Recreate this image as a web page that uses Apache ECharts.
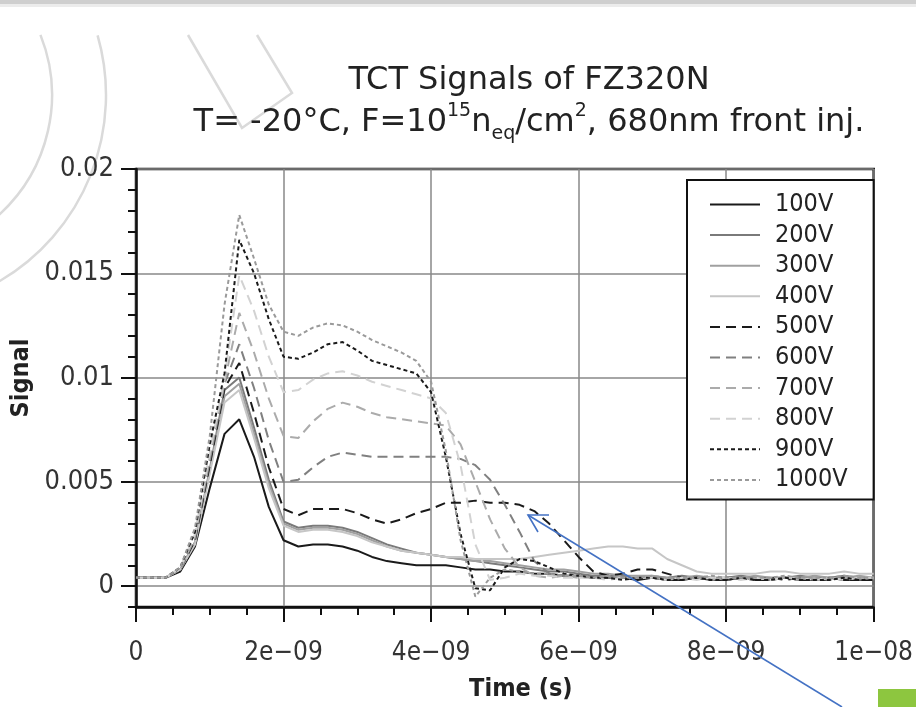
<!DOCTYPE html>
<html>
<head>
<meta charset="utf-8">
<script src="https://cdn.jsdelivr.net/npm/echarts@6/dist/echarts.min.js"></script>
<style>html,body{margin:0;padding:0;background:#fff;}#c{width:916px;height:707px;}</style>
</head>
<body>
<div id="c"></div>
<script>
// ---- data ----
const times = [
  0, 2e-10, 4e-10, 6e-10, 8e-10, 1.0e-9, 1.2e-9, 1.4e-9, 1.6e-9, 1.8e-9,
  2.0e-9, 2.2e-9, 2.4e-9, 2.6e-9, 2.8e-9, 3.0e-9, 3.2e-9, 3.4e-9, 3.6e-9, 3.8e-9,
  4.0e-9, 4.2e-9, 4.4e-9, 4.6e-9, 4.8e-9, 5.0e-9, 5.2e-9, 5.4e-9, 5.6e-9, 5.8e-9,
  6.0e-9, 6.2e-9, 6.4e-9, 6.6e-9, 6.8e-9, 7.0e-9, 7.2e-9, 7.4e-9, 7.6e-9, 7.8e-9,
  8.0e-9, 8.2e-9, 8.4e-9, 8.6e-9, 8.8e-9, 9.0e-9, 9.2e-9, 9.4e-9, 9.6e-9, 9.8e-9,
  1.0e-8
];
const seriesNames = ['100V','200V','300V','400V','500V','600V','700V','800V','900V','1000V'];
const v100 = [0.0004,0.0004,0.0004,0.0007,0.0019,0.0047,0.0073,0.0080,0.0062,0.0038,
  0.0022,0.0019,0.0020,0.0020,0.0019,0.0017,0.0014,0.0012,0.0011,0.0010,
  0.0010,0.0010,0.0009,0.0008,0.0008,0.0007,0.0007,0.0006,0.0006,0.0005,
  0.0005,0.0004,0.0004,0.0004,0.0003,0.0004,0.0003,0.0003,0.0004,0.0003,
  0.0003,0.0004,0.0003,0.0003,0.0004,0.0003,0.0003,0.0004,0.0003,0.0003,
  0.0003];
const v200 = [0.0004,0.0004,0.0004,0.0008,0.0021,0.0056,0.0094,0.0100,0.0076,0.0051,
  0.0031,0.0028,0.0029,0.0029,0.0028,0.0026,0.0023,0.0020,0.0018,0.0016,
  0.0015,0.0014,0.0013,0.0012,0.0011,0.0010,0.0009,0.0008,0.0007,0.0007,
  0.0006,0.0005,0.0005,0.0005,0.0004,0.0004,0.0004,0.0005,0.0004,0.0004,
  0.0004,0.0005,0.0004,0.0004,0.0004,0.0005,0.0004,0.0004,0.0005,0.0004,
  0.0004];
const v300 = [0.0004,0.0004,0.0004,0.0008,0.0021,0.0055,0.0091,0.0097,0.0073,0.0049,
  0.0030,0.0027,0.0028,0.0028,0.0027,0.0025,0.0022,0.0019,0.0017,0.0016,
  0.0015,0.0014,0.0013,0.0012,0.0012,0.0011,0.0010,0.0009,0.0008,0.0008,
  0.0007,0.0006,0.0006,0.0005,0.0005,0.0005,0.0004,0.0004,0.0005,0.0004,
  0.0004,0.0004,0.0005,0.0004,0.0004,0.0004,0.0005,0.0004,0.0004,0.0005,
  0.0004];
const v400 = [0.0004,0.0004,0.0004,0.0008,0.0020,0.0054,0.0088,0.0094,0.0071,0.0047,
  0.0029,0.0026,0.0027,0.0027,0.0026,0.0024,0.0021,0.0019,0.0017,0.0016,
  0.0015,0.0014,0.0014,0.0013,0.0013,0.0013,0.0013,0.0014,0.0015,0.0016,
  0.0017,0.0018,0.0019,0.0019,0.0018,0.0018,0.0013,0.0010,0.0007,0.0006,
  0.0006,0.0006,0.0006,0.0007,0.0007,0.0006,0.0006,0.0006,0.0007,0.0006,
  0.0006];
const v500 = [0.0004,0.0004,0.0004,0.0008,0.0022,0.0058,0.0095,0.0107,0.0083,0.0057,
  0.0037,0.0034,0.0037,0.0037,0.0037,0.0035,0.0032,0.0030,0.0032,0.0035,
  0.0037,0.0040,0.0040,0.0041,0.0040,0.0040,0.0039,0.0036,0.0030,0.0022,
  0.0014,0.0007,0.0005,0.0006,0.0008,0.0008,0.0006,0.0004,0.0004,0.0003,
  0.0004,0.0004,0.0003,0.0004,0.0003,0.0004,0.0003,0.0003,0.0004,0.0003,
  0.0003];
const v600 = [0.0004,0.0004,0.0004,0.0008,0.0023,0.0060,0.0097,0.0116,0.0095,0.0070,
  0.0050,0.0051,0.0057,0.0062,0.0064,0.0063,0.0062,0.0062,0.0062,0.0062,
  0.0062,0.0062,0.0061,0.0058,0.0051,0.0039,0.0026,0.0012,0.0006,0.0005,
  0.0005,0.0004,0.0004,0.0005,0.0004,0.0004,0.0004,0.0003,0.0004,0.0004,
  0.0003,0.0004,0.0004,0.0003,0.0004,0.0004,0.0003,0.0004,0.0004,0.0003,
  0.0004];
const v700 = [0.0004,0.0004,0.0004,0.0008,0.0024,0.0062,0.0098,0.0131,0.0112,0.0090,
  0.0072,0.0071,0.0079,0.0085,0.0088,0.0086,0.0083,0.0081,0.0080,0.0079,
  0.0078,0.0077,0.0068,0.0050,0.0032,0.0018,0.0009,0.0005,0.0004,0.0005,
  0.0004,0.0004,0.0005,0.0004,0.0004,0.0004,0.0003,0.0004,0.0004,0.0003,
  0.0004,0.0004,0.0003,0.0004,0.0004,0.0003,0.0004,0.0003,0.0004,0.0004,
  0.0003];
const v800 = [0.0004,0.0004,0.0004,0.0009,0.0025,0.0064,0.0100,0.0149,0.0132,0.0110,
  0.0093,0.0094,0.0099,0.0102,0.0103,0.0101,0.0098,0.0096,0.0094,0.0092,
  0.0090,0.0083,0.0058,0.0020,0.0003,0.0004,0.0006,0.0005,0.0005,0.0004,
  0.0004,0.0004,0.0003,0.0004,0.0004,0.0004,0.0003,0.0004,0.0003,0.0004,
  0.0004,0.0003,0.0004,0.0003,0.0004,0.0004,0.0003,0.0004,0.0003,0.0004,
  0.0004];
const v900 = [0.0004,0.0004,0.0004,0.0009,0.0026,0.0068,0.0102,0.0166,0.0150,0.0128,
  0.0110,0.0109,0.0112,0.0116,0.0117,0.0113,0.0108,0.0106,0.0104,0.0102,
  0.0093,0.0062,0.0025,-0.0001,-0.0002,0.0009,0.0013,0.0012,0.0009,0.0006,
  0.0005,0.0004,0.0004,0.0003,0.0004,0.0004,0.0003,0.0003,0.0004,0.0003,
  0.0003,0.0004,0.0003,0.0003,0.0004,0.0003,0.0003,0.0003,0.0004,0.0003,
  0.0003];
const v1000 = [0.0004,0.0004,0.0004,0.0009,0.0028,0.0072,0.0135,0.0178,0.0157,0.0135,
  0.0122,0.0120,0.0124,0.0126,0.0125,0.0122,0.0118,0.0115,0.0112,0.0108,
  0.0098,0.0065,0.0022,-0.0005,0.0004,0.0008,0.0007,0.0006,0.0006,0.0005,
  0.0005,0.0004,0.0005,0.0004,0.0004,0.0005,0.0004,0.0004,0.0004,0.0005,
  0.0004,0.0004,0.0004,0.0004,0.0005,0.0004,0.0004,0.0004,0.0005,0.0004,
  0.0004];
const xTickValues = [0, 2e-9, 4e-9, 6e-9, 8e-9, 1e-8];
const xTickLabels = ['0', '2e\u221209', '4e\u221209', '6e\u221209', '8e\u221209', '1e\u221208'];
const yTickValues = [0, 0.005, 0.01, 0.015, 0.02];
const yTickLabels = ['0', '0.005', '0.01', '0.015', '0.02'];

// ---- styles ----
const allValues = [v100, v200, v300, v400, v500, v600, v700, v800, v900, v1000];
const styles = [
  {color:'#1a1a1a', type:'solid'},
  {color:'#7a7a7a', type:'solid'},
  {color:'#a0a0a0', type:'solid'},
  {color:'#c6c6c6', type:'solid'},
  {color:'#1a1a1a', type:[10,6]},
  {color:'#808080', type:[10,6]},
  {color:'#ababab', type:[10,6]},
  {color:'#d2d2d2', type:[10,6]},
  {color:'#1a1a1a', type:[4,3]},
  {color:'#9a9a9a', type:[4,3]}
];
const FONT = "'DejaVu Sans Condensed', 'DejaVu Sans', sans-serif";

const series = seriesNames.map((name, i) => ({
  name: name,
  type: 'line',
  symbol: 'none',
  data: times.map((t, j) => [t, allValues[i][j]]),
  color: styles[i].color,
  lineStyle: {color: styles[i].color, width: 2, type: styles[i].type},
  z: 3,
  animation: false
}));

function labelFor(values, labels) {
  return function (v) {
    for (let k = 0; k < values.length; k++) {
      if (Math.abs(v - values[k]) < Math.abs(values[1] - values[0]) * 1e-3) return labels[k];
    }
    return '';
  };
}

const chart = echarts.init(document.getElementById('c'), null, {renderer: 'canvas'});
chart.setOption({
  animation: false,
  backgroundColor: '#ffffff',
  title: {
    left: 524,
    top: 55,
    textAlign: 'center',
    text: '{m|TCT Signals of FZ320N}\n{m|T= -20°C, F=10}{sup|15}{m|n}{sub|eq}{m|/cm}{sup|2}{m|, 680nm front inj.}',
    textStyle: {
      fontFamily: "'DejaVu Sans', sans-serif",
      fontSize: 32,
      fontWeight: 'normal',
      color: '#222',
      rich: {
        m: {fontFamily: "'DejaVu Sans', sans-serif", fontSize: 32, lineHeight: 42, color: '#222', verticalAlign: 'middle'},
        sup: {fontFamily: "'DejaVu Sans', sans-serif", fontSize: 19, lineHeight: 19, color: '#222', verticalAlign: 'top'},
        sub: {fontFamily: "'DejaVu Sans', sans-serif", fontSize: 19, lineHeight: 19, color: '#222', verticalAlign: 'bottom'}
      }
    }
  },
  grid: {
    left: 136, right: 41, top: 169, bottom: 98,
    show: true, borderColor: '#111', borderWidth: 2.5, backgroundColor: 'transparent'
  },
  legend: {
    orient: 'vertical',
    left: 687, top: 180,
    padding: [12, 26, 7, 22],
    itemWidth: 50, itemHeight: 14, itemGap: 5.6,
    icon: 'inherit',
    itemStyle: {opacity: 0, borderWidth: 0},
    backgroundColor: '#fff',
    borderColor: '#111', borderWidth: 2,
    textStyle: {fontFamily: FONT, fontSize: 25, lineHeight: 22, color: '#222', padding: [0, 0, 0, 10]},
    data: seriesNames
  },
  xAxis: {
    type: 'value', min: 0, max: 1e-8, interval: 2e-9,
    name: 'Time (s)', nameLocation: 'middle', nameGap: 70,
    nameTextStyle: {fontFamily: FONT, fontSize: 25, fontWeight: 'bold', color: '#222', padding: [0, 0, 0, 32]},
    axisLine: {show: true, onZero: false, lineStyle: {color: '#111', width: 2.5}},
    axisTick: {show: true, inside: false, length: 15, lineStyle: {color: '#111', width: 2}},
    minorTick: {show: true, splitNumber: 4, length: 8, lineStyle: {color: '#111', width: 2}},
    axisLabel: {fontFamily: FONT, fontSize: 26, color: '#333', margin: 33, formatter: labelFor(xTickValues, xTickLabels)},
    splitLine: {show: true, lineStyle: {color: '#888', width: 1.5}}
  },
  yAxis: [{
    type: 'value', min: -0.001, max: 0.02,
    name: 'Signal', nameLocation: 'middle', nameGap: 94,
    nameTextStyle: {fontFamily: FONT, fontSize: 25, fontWeight: 'bold', color: '#222', padding: [0, 0, 0, 20]},
    axisLine: {show: true, onZero: false, lineStyle: {color: '#111', width: 2.5}},
    axisTick: {show: true, inside: false, length: 15, lineStyle: {color: '#111', width: 2}, customValues: yTickValues},
    axisLabel: {fontFamily: FONT, fontSize: 27, color: '#333', margin: 22, customValues: yTickValues, formatter: labelFor(yTickValues, yTickLabels)},
    splitLine: {show: true, lineStyle: {color: '#888', width: 1.5}}
  }, {
    type: 'value', min: -0.001, max: 0.02, interval: 0.001, position: 'left', offset: 0,
    axisLine: {show: false},
    axisTick: {show: true, inside: false, length: 8, lineStyle: {color: '#111', width: 2}},
    axisLabel: {show: false},
    splitLine: {show: false}
  }],
  graphic: [
    {type: 'rect', shape: {x: 0, y: 0, width: 916, height: 4}, style: {fill: '#cfcfcf'}, z: 10},
    {type: 'rect', shape: {x: 0, y: 4, width: 916, height: 3}, style: {fill: '#ececec'}, z: 10},
    {type: 'arc', shape: {cx: -110, cy: 95, r: 162, startAngle: -0.38, endAngle: 0.83}, style: {stroke: '#dadada', lineWidth: 2.5, fill: null}, z: -1},
    {type: 'arc', shape: {cx: -110, cy: 95, r: 216, startAngle: -0.28, endAngle: 1.04}, style: {stroke: '#dadada', lineWidth: 2.5, fill: null}, z: -1},
    {type: 'polyline', shape: {points: [[188, 35], [242, 128], [292, 93], [257, 35]]}, style: {stroke: '#dadada', lineWidth: 2.5, fill: null}, z: -1},
    {type: 'line', shape: {x1: 528, y1: 515, x2: 842, y2: 707}, style: {stroke: '#4472c4', lineWidth: 1.6}, z: 20},
    {type: 'polyline', shape: {points: [[549, 515], [528, 515], [538, 532]]}, style: {stroke: '#4472c4', lineWidth: 1.6, fill: null}, z: 20},
    {type: 'rect', shape: {x: 878, y: 689, width: 38, height: 18}, style: {fill: '#8dc63f'}, z: 20}
  ],
  series: series
});
</script>
</body>
</html>
